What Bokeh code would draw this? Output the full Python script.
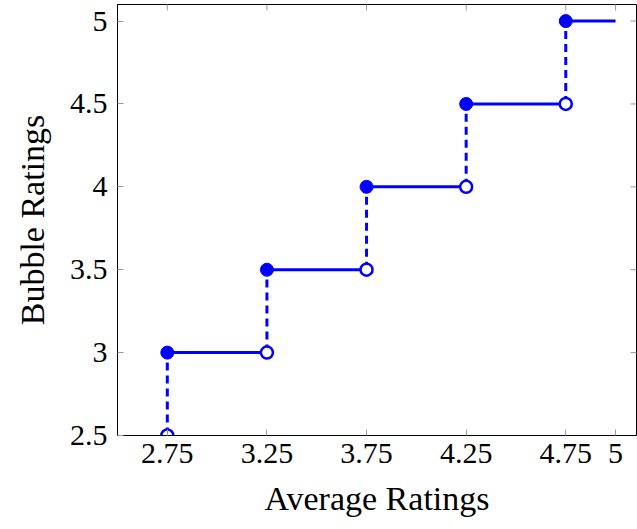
import math
from bokeh.plotting import figure
from bokeh.models import FixedTicker, Range1d, ColumnDataSource
from bokeh.embed import file_html
from bokeh.resources import INLINE

# Step thresholds: average rating at which each bubble rating starts
step_x = [2.75, 3.25, 3.75, 4.25, 4.75]
bubble_lo = [2.5, 3.0, 3.5, 4.0, 4.5]   # value just below the threshold (open dots)
bubble_hi = [3.0, 3.5, 4.0, 4.5, 5.0]   # value from the threshold on (filled dots)
step_end = [3.25, 3.75, 4.25, 4.75, 5.0]

x_ticks = [2.75, 3.25, 3.75, 4.25, 4.75, 5]
y_ticks = [2.5, 3, 3.5, 4, 4.5, 5]

FONT = "Liberation Serif"
BLUE = "#0000ff"
TICK_GRAY = "#999999"

x_rng = Range1d(2.5, 5.105)
y_rng = Range1d(2.5, 5.1)

p = figure(width=637, height=529, output_backend="svg", toolbar_location=None,
           x_range=x_rng, y_range=y_rng,
           min_border_left=117, min_border_right=1, min_border_top=4,
           min_border_bottom=94)
p.outline_line_color = "black"
p.outline_line_width = 1
p.grid.visible = False

src = ColumnDataSource(dict(x=step_x, lo=bubble_lo, hi=bubble_hi, end=step_end))

# vertical jumps (dashed)
p.segment(x0="x", y0="lo", x1="x", y1="hi", source=src, line_color=BLUE,
          line_width=3, line_dash="8 5")
# flat steps (solid)
p.segment(x0="x", y0="hi", x1="end", y1="hi", source=src, line_color=BLUE,
          line_width=3)
# open endpoints
p.scatter(x="x", y="lo", source=src, size=12, fill_color="white",
          line_color=BLUE, line_width=2.5)
# closed endpoints
p.scatter(x="x", y="hi", source=src, size=13, fill_color=BLUE,
          line_color=BLUE)

for ax, ticks in ((p.xaxis[0], x_ticks), (p.yaxis[0], y_ticks)):
    ax.ticker = FixedTicker(ticks=ticks)
    ax.major_tick_in = 6
    ax.major_tick_out = 0
    ax.minor_tick_in = 0
    ax.minor_tick_out = 0
    ax.major_tick_line_color = TICK_GRAY
    ax.axis_line_color = "black"
    ax.major_label_text_font = FONT
    ax.major_label_text_font_size = "30px"
    ax.major_label_text_color = "black"
    ax.axis_label_text_font = FONT
    ax.axis_label_text_font_size = "34px"
    ax.axis_label_text_font_style = "normal"
    ax.axis_label_text_color = "black"

p.xaxis[0].axis_label = "Average Ratings"
p.yaxis[0].axis_label = "Bubble Ratings"
p.xaxis[0].major_label_standoff = 8
p.xaxis[0].axis_label_standoff = 14
p.yaxis[0].major_label_standoff = 10
p.yaxis[0].axis_label_standoff = 16
p.xaxis[0].major_label_overrides = {5: "5"}
p.yaxis[0].major_label_overrides = {5: "5", 3: "3", 4: "4"}

# mirrored tick marks along the top and right edges (half clipped by the frame)
p.scatter(x=x_ticks, y=[y_rng.end] * len(x_ticks), marker="dash", size=12,
          angle=math.pi / 2, line_color=TICK_GRAY, line_width=1)
p.scatter(x=[x_rng.end] * len(y_ticks), y=y_ticks, marker="dash", size=12,
          line_color=TICK_GRAY, line_width=1)

open("out.html", "w").write(file_html(p, INLINE))
